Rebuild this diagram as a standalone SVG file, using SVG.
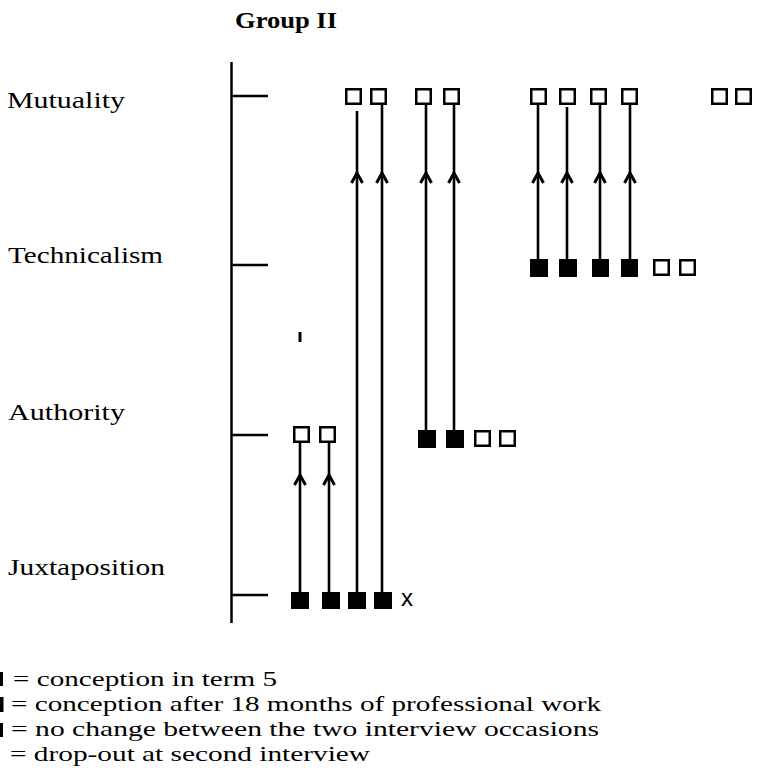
<svg xmlns="http://www.w3.org/2000/svg" width="758" height="780" viewBox="0 0 758 780">
  <style>
    .lbl { font-family: "Liberation Serif", "Times New Roman", serif; font-size: 24px; fill: #000; }
    .title { font-family: "Liberation Serif", "Times New Roman", serif; font-size: 23px; font-weight: bold; fill: #000; }
    .legend { font-family: "Liberation Serif", "Times New Roman", serif; font-size: 22px; fill: #000; }
    .mark { font-family: "Liberation Sans", Arial, sans-serif; font-size: 24px; fill: #000; }
    .axis { stroke: #000; stroke-width: 2.5; fill: none; }
    .open { fill: #fff; stroke: #000; stroke-width: 2.5; }
    .full { fill: #000; }
    .conn { stroke: #000; stroke-width: 2.6; fill: none; marker-mid: url(#chev); }
  </style>
  <defs>
    <marker id="chev" markerUnits="userSpaceOnUse" orient="auto" markerWidth="16" markerHeight="16" refX="0" refY="0" viewBox="-12 -8 16 16" overflow="visible">
      <path d="M -10 -5.5 L 0 0 L -10 5.5" fill="none" stroke="#000" stroke-width="3" stroke-linejoin="miter"/>
    </marker>
  </defs>

  <!-- heading -->
  <text class="title" x="235" y="28" textLength="102" lengthAdjust="spacingAndGlyphs">Group II</text>

  <!-- scale axis with ticks and category labels -->
  <g id="axis">
    <line class="axis" x1="231.5" y1="62" x2="231.5" y2="623"/>
    <line class="axis" x1="231.5" y1="96" x2="268" y2="96"/>
    <line class="axis" x1="231.5" y1="265" x2="268" y2="265"/>
    <line class="axis" x1="231.5" y1="435" x2="268" y2="435"/>
    <line class="axis" x1="231.5" y1="595" x2="268" y2="595"/>
  </g>
  <g id="label-mutuality"><text class="lbl" x="7" y="108" textLength="118" lengthAdjust="spacingAndGlyphs">Mutuality</text></g>
  <g id="label-technicalism"><text class="lbl" x="8" y="263" textLength="155" lengthAdjust="spacingAndGlyphs">Technicalism</text></g>
  <g id="label-authority"><text class="lbl" x="8" y="420" textLength="117" lengthAdjust="spacingAndGlyphs">Authority</text></g>
  <g id="label-juxtaposition"><text class="lbl" x="8" y="575" textLength="157" lengthAdjust="spacingAndGlyphs">Juxtaposition</text></g>

  <!-- changes between the two interviews -->
  <g id="connectors">
    <path class="conn" d="M 300 592 L 300 475 L 300 443"/>
    <path class="conn" d="M 329 592 L 329 475 L 329 443"/>
    <path class="conn" d="M 357 592 L 357 173 L 357 111"/>
    <path class="conn" d="M 382 592 L 382 173 L 382 105"/>
    <path class="conn" d="M 426 430 L 426 173 L 426 105"/>
    <path class="conn" d="M 454 430 L 454 173 L 454 105"/>
    <path class="conn" d="M 538 259 L 538 173 L 538 105"/>
    <path class="conn" d="M 567 259 L 567 173 L 567 107"/>
    <path class="conn" d="M 600 259 L 600 173 L 600 105"/>
    <path class="conn" d="M 630 259 L 630 173 L 630 105"/>
    <line x1="300" y1="332" x2="300" y2="342" stroke="#000" stroke-width="3"/>
  </g>

  <!-- Mutuality row -->
  <g id="mutuality-row">
    <rect class="open" x="346.25" y="89.25" width="14.5" height="14.5"/>
    <rect class="open" x="371.25" y="89.25" width="14.5" height="14.5"/>
    <rect class="open" x="416.25" y="89.25" width="14.5" height="14.5"/>
    <rect class="open" x="444.25" y="89.25" width="14.5" height="14.5"/>
    <rect class="open" x="531.25" y="89.25" width="14.5" height="14.5"/>
    <rect class="open" x="560.25" y="89.25" width="14.5" height="14.5"/>
    <rect class="open" x="591.25" y="89.25" width="14.5" height="14.5"/>
    <rect class="open" x="622.25" y="89.25" width="14.5" height="14.5"/>
    <rect class="open" x="712.25" y="89.25" width="14.5" height="14.5"/>
    <rect class="open" x="736.25" y="89.25" width="14.5" height="14.5"/>
  </g>

  <!-- Technicalism row -->
  <g id="technicalism-row">
    <rect class="full" x="530" y="259" width="18" height="18"/>
    <rect class="full" x="559" y="259" width="18" height="18"/>
    <rect class="full" x="592" y="259" width="17" height="18"/>
    <rect class="full" x="621" y="259" width="17" height="18"/>
    <rect class="open" x="654.25" y="260.25" width="14.5" height="14.5"/>
    <rect class="open" x="680.25" y="260.25" width="14.5" height="14.5"/>
  </g>

  <!-- Authority row -->
  <g id="authority-row">
    <rect class="open" x="294.25" y="427.25" width="14.5" height="14.5"/>
    <rect class="open" x="320.25" y="427.25" width="14.5" height="14.5"/>
    <rect class="full" x="418" y="430" width="18" height="18"/>
    <rect class="full" x="446" y="430" width="18" height="18"/>
    <rect class="open" x="475.25" y="431.25" width="14.5" height="14.5"/>
    <rect class="open" x="500.25" y="431.25" width="14.5" height="14.5"/>
  </g>

  <!-- Juxtaposition row -->
  <g id="juxtaposition-row">
    <rect class="full" x="291" y="592" width="18" height="17"/>
    <rect class="full" x="322" y="592" width="18" height="17"/>
    <rect class="full" x="348" y="592" width="18" height="17"/>
    <rect class="full" x="374" y="592" width="18" height="17"/>
    <text class="mark" x="401" y="606">x</text>
  </g>

  <!-- key: symbols are clipped at the left margin -->
  <g id="legend">
    <rect class="full" x="0" y="672" width="3" height="14"/>
    <rect class="full" x="0" y="697" width="3.5" height="15"/>
    <rect class="full" x="0" y="723" width="3" height="14"/>
    <text class="legend" x="13" y="686" textLength="264" lengthAdjust="spacingAndGlyphs">= conception in term 5</text>
    <text class="legend" x="11" y="711" textLength="590" lengthAdjust="spacingAndGlyphs">= conception after 18 months of professional work</text>
    <text class="legend" x="11" y="736" textLength="588" lengthAdjust="spacingAndGlyphs">= no change between the two interview occasions</text>
    <text class="legend" x="10" y="761" textLength="360" lengthAdjust="spacingAndGlyphs">= drop-out at second interview</text>
  </g>
</svg>
